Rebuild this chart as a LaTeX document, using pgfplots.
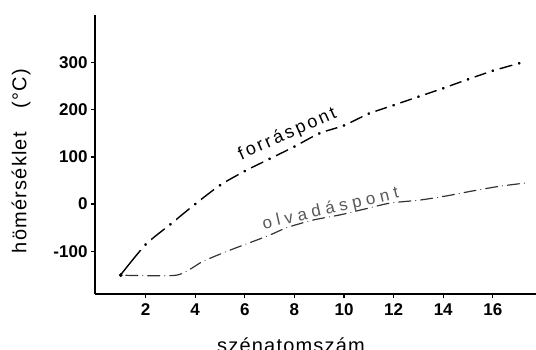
\documentclass[border=0pt]{standalone}
\usepackage{fontspec}
\setmainfont{Liberation Sans}
\newfontfamily\lblfont[LetterSpace=6]{Liberation Sans}
\newfontfamily\curvefont[LetterSpace=15]{Liberation Sans}
\newfontfamily\meltfont[LetterSpace=28]{Liberation Sans}
\usepackage{pgfplots}
\pgfplotsset{compat=1.18}
\pgfplotstableread{
x y
1 -150
2 -86
3 -43
4 0
5 40
6 70
7 96
8 122
9 150
10 167
11 192
12 210
13 228
14 246
15 265
16 283
17.06 299
}\boiling
\pgfplotstableread{
x y
2 -86
3 -43
4 0
5 40
6 70
7 96
8 122
9 150
10 167
11 192
12 210
13 228
14 246
15 265
16 283
17.06 299
}\boilingdots
\pgfplotstableread{
x y
1 -151
3.25 -151
4.3 -122
5.3 -100
6.2 -82
7.0 -66
7.7 -50
8.75 -34
9.84 -23
10.8 -11
11.85 2
13.06 8.5
14.1 17
15.2 28
16.3 38
17.37 45
}\melting
\begin{document}
\begin{tikzpicture}
\path[use as bounding box] (-95bp,-56bp) rectangle (441bp,294bp);
\begin{axis}[
  at={(0,0)}, anchor=south west,
  scale only axis, width=441bp, height=279bp,
  xmin=-0.04, xmax=17.74, ymin=-191, ymax=401.5,
  axis x line=bottom, axis y line=left,
  axis line style={line width=1.8bp, -},
  xtick={2,4,...,16}, ytick={-100,0,100,200,300},
  tick align=outside, major tick length=4bp,
  tick style={line width=1.2bp, black},
  ticklabel style={font=\fontsize{17bp}{17bp}\selectfont\bfseries},
  xticklabel style={yshift=-2bp},
  /pgf/number format/assume math mode=true,
  clip=false,
]
\addplot[black, line width=1.4bp, smooth, tension=0.4] table {\boiling};
\addplot[only marks, mark=*, mark size=4.5bp, mark options={draw=white, line width=5.6bp, fill=black}] table {\boilingdots};
\addplot[black!80, line width=1.2bp, line cap=round, smooth, tension=0.4, dash pattern=on 0.01bp off 5bp on 12bp off 5bp] table {\melting};
\addplot[only marks, mark=*, mark size=1.7bp, black] coordinates {(1,-151)};
\node[rotate=24, anchor=base, font=\fontsize{18bp}{18bp}\curvefont] at (axis cs:7.8,139) {forráspont};
\node[rotate=13, anchor=base, text=black!65, font=\fontsize{17bp}{17bp}\meltfont] at (axis cs:9.5,-20) {olvadáspont};
\end{axis}
\node[rotate=90, anchor=center, font=\fontsize{20bp}{20bp}\lblfont] at (-74bp,133bp) {hömérséklet\hspace{24bp}(°C)};
\node[anchor=base, font=\fontsize{20bp}{20bp}\lblfont] at (196bp,-58bp) {szénatomszám};
\end{tikzpicture}
\end{document}
